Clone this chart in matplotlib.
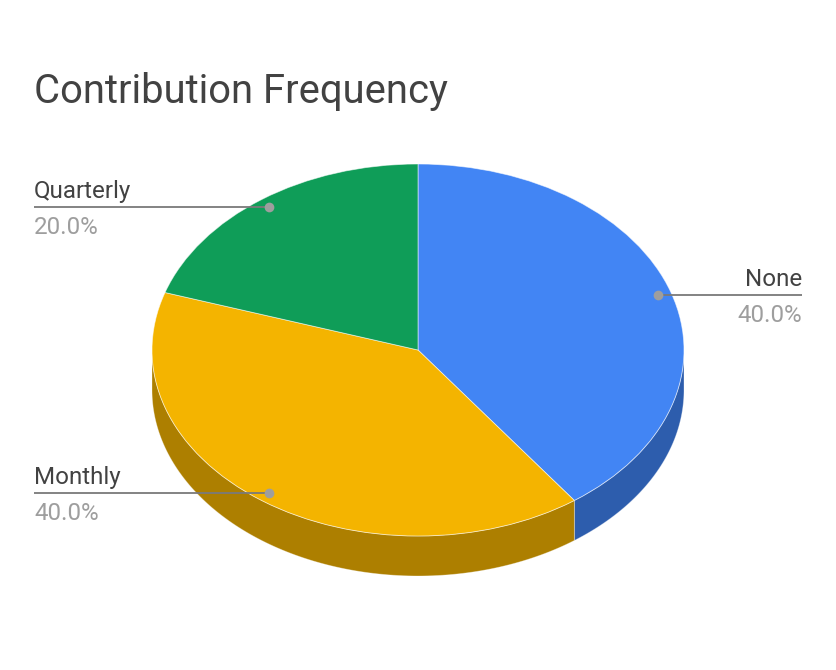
import numpy as np
import matplotlib.pyplot as plt
from matplotlib.patches import Polygon

labels = ['None', 'Monthly', 'Quarterly']
values = [40, 40, 20]
colors = ['#4285F4', '#F4B400', '#0F9D58']
side_colors = ['#2D5DAD', '#AD7F00', '#0A6E3E']

plt.rcParams['font.family'] = ['Roboto', 'DejaVu Sans']

W, H = 836, 670
fig = plt.figure(figsize=(W / 100, H / 100), dpi=100)

# pie ellipse geometry, in pixels
cx, cy, rx, ry, depth = 418, 350, 266, 186, 40
d = depth / ry

ax = fig.add_axes([(cx - rx) / W, (H - (cy + ry + depth)) / H,
                   2 * rx / W, (2 * ry + depth) / H])

fracs = np.array(values) / sum(values)
bounds = 90 - 360 * np.concatenate([[0], np.cumsum(fracs)])

# front side walls (only the lower half of the rim is visible)
for i in range(len(values)):
    a0, a1 = bounds[i + 1], bounds[i]
    for k in (-360, 0, 360):
        lo, hi = max(a0, -180 + k), min(a1, k)
        if lo < hi:
            t = np.radians(np.linspace(lo, hi, 120))
            x, y = np.cos(t), np.sin(t)
            pts = np.column_stack([np.r_[x, x[::-1]], np.r_[y, y[::-1] - d]])
            ax.add_patch(Polygon(pts, closed=True, fc=side_colors[i],
                                 ec=(1, 1, 1, 0.35), lw=0.6))

ax.pie(values, colors=colors, startangle=90, counterclock=False,
       wedgeprops=dict(ec=(1, 1, 1, 0.6), lw=0.6))
ax.set_aspect('auto')
ax.set_xlim(-1, 1)
ax.set_ylim(-1 - d, 1)
ax.axis('off')

# overlay in pixel coordinates for title and labels
ov = fig.add_axes([0, 0, 1, 1])
ov.set_xlim(0, W)
ov.set_ylim(H, 0)
ov.axis('off')

ov.text(34, 103, 'Contribution Frequency', fontsize=28.8, color='#424242',
        va='baseline', ha='left')

mids = (bounds[:-1] + bounds[1:]) / 2
for lab, frac, m in zip(labels, fracs, np.radians(mids)):
    px, py = ax.transData.transform((0.95 * np.cos(m), 0.95 * np.sin(m)))
    py = H - py
    if np.cos(m) > 0:
        xe, ha = 802, 'right'
    else:
        xe, ha = 34, 'left'
    ov.plot([px, xe], [py, py], color='#7a7a7a', lw=1.3, solid_capstyle='butt')
    ov.plot(px, py, 'o', color='#9e9e9e', ms=7, mec='none')
    ov.text(xe, py - 9, lab, fontsize=17.4, color='#424242', ha=ha, va='baseline')
    ov.text(xe, py + 27, f'{frac * 100:.1f}%', fontsize=17.4, color='#9e9e9e',
            ha=ha, va='baseline')

fig.savefig('out.png', dpi=100, facecolor='white')
